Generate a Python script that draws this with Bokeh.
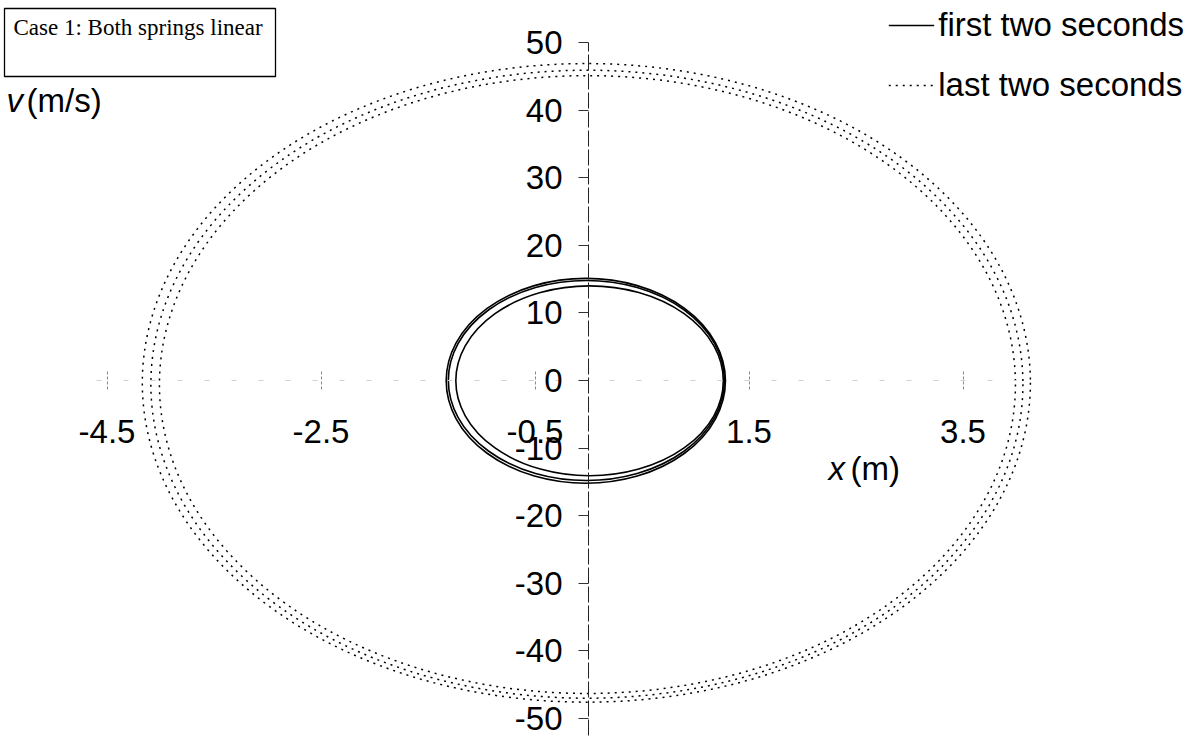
from bokeh.plotting import figure
from bokeh.models import (LinearAxis, FixedTicker, Range1d, Label, BoxAnnotation,
                          Legend, LegendItem, ColumnDataSource)
from bokeh.embed import file_html
from bokeh.resources import INLINE

# ---- data -------------------------------------------------------------
x_ticks = [-4.5, -2.5, -0.5, 1.5, 3.5]
v_ticks = [-50, -40, -30, -20, -10, 0, 10, 20, 30, 40, 50]

# phase-plane loops during the first two seconds (extent of each loop)
first_x_min = [-1.33, -1.31, -1.24]
first_x_max = [1.28, 1.27, 1.26]
first_v_min = [-15.2, -14.8, -14.1]
first_v_max = [15.1, 14.8, 14.0]

# phase-plane loops during the last two seconds
last_x_min = [-4.17, -4.09, -4.01]
last_x_max = [4.13, 4.06, 3.99]
last_v_min = [-47.6, -47.0, -46.3]
last_v_max = [46.9, 45.9, 45.1]

# ---- layout -----------------------------------------------------------
W, H = 1190, 739
ORIGIN_PX = (588, 380)      # canvas position of x = 0, v = 0
PX_PER_M = 107.0
PX_PER_MS = 6.76
FONT = "Liberation Sans"


def loops(xmin, xmax, vmin, vmax):
    return ColumnDataSource(dict(
        xc=[(a + b) / 2 for a, b in zip(xmin, xmax)],
        vc=[(a + b) / 2 for a, b in zip(vmin, vmax)],
        w=[b - a for a, b in zip(xmin, xmax)],
        h=[b - a for a, b in zip(vmin, vmax)],
    ))


def plain_labels(ticks):
    # ordinary hyphen-minus for negative tick labels
    return {t: f"{t:g}" for t in ticks}


x_range = Range1d(-ORIGIN_PX[0] / PX_PER_M, (W - ORIGIN_PX[0]) / PX_PER_M)
y_range = Range1d(-(H - ORIGIN_PX[1]) / PX_PER_MS, ORIGIN_PX[1] / PX_PER_MS)

p = figure(width=W, height=H, x_range=x_range, y_range=y_range,
           x_axis_type=None, y_axis_type=None, min_border=0,
           output_backend="svg", toolbar_location=None)
p.outline_line_color = None
p.background_fill_color = "white"
p.border_fill_color = "white"

# axes crossing at the origin
yaxis = LinearAxis(fixed_location=0, ticker=FixedTicker(ticks=v_ticks),
                   bounds=(-52.5, 50))
yaxis.axis_line_color = "#222222"
yaxis.axis_line_width = 1
yaxis.axis_line_dash = "16 3"
yaxis.major_tick_in = 0
yaxis.major_tick_out = 10
yaxis.major_tick_line_color = "#333333"
yaxis.minor_tick_line_color = None
yaxis.major_label_standoff = 16
yaxis.major_label_text_font = FONT
yaxis.major_label_text_font_size = "33px"
yaxis.major_label_text_color = "black"
yaxis.major_label_overrides = plain_labels(v_ticks)
p.add_layout(yaxis, "left")

xaxis = LinearAxis(fixed_location=0, ticker=FixedTicker(ticks=x_ticks),
                   bounds=(-4.6, 4.0))
xaxis.axis_line_color = "#d0d0d0"
xaxis.axis_line_width = 1
xaxis.axis_line_dash = "5 22"
xaxis.major_tick_in = 9
xaxis.major_tick_out = 9
xaxis.major_tick_line_color = "#888888"
xaxis.major_tick_line_dash = "3 2"
xaxis.minor_tick_line_color = None
xaxis.major_label_standoff = 30
xaxis.major_label_text_font = FONT
xaxis.major_label_text_font_size = "33px"
xaxis.major_label_text_color = "black"
xaxis.major_label_overrides = plain_labels(x_ticks)
p.add_layout(xaxis, "below")

# trajectories
p.ellipse(x="xc", y="vc", width="w", height="h", source=loops(
    last_x_min, last_x_max, last_v_min, last_v_max),
    fill_color=None, line_color="black", line_width=1.5, line_dash="2 5")
p.ellipse(x="xc", y="vc", width="w", height="h", source=loops(
    first_x_min, first_x_max, first_v_min, first_v_max),
    fill_color=None, line_color="black", line_width=1.6)

# legend samples (a single undefined point each, so nothing is drawn in the plot)
nan = float("nan")
r_first = p.line(x=[nan], y=[nan], line_color="black", line_width=1.6)
r_last = p.line(x=[nan], y=[nan], line_color="black", line_width=1.5,
                line_dash="2 5")
legend = Legend(items=[LegendItem(label="first two seconds", renderers=[r_first]),
                       LegendItem(label="last two seconds", renderers=[r_last])],
                location="top_right")
legend.border_line_color = None
legend.background_fill_alpha = 0
legend.padding = 0
legend.margin = 6
legend.spacing = 22
legend.glyph_width = 46
legend.glyph_height = 36
legend.label_height = 36
legend.label_standoff = 4
legend.label_text_font = FONT
legend.label_text_font_size = "33px"
legend.label_text_color = "black"
p.add_layout(legend)

# axis titles
def label(x, y, text, **kw):
    opts = dict(x=x, y=H - y, x_units="screen", y_units="screen", text=text,
                text_font=FONT, text_font_size="33px", text_baseline="middle",
                text_color="black")
    opts.update(kw)
    p.add_layout(Label(**opts))

label(6, 100, "v", text_font_style="italic")
label(26, 100, "(m/s)")
label(828, 468, "x", text_font_style="italic")
label(850, 468, "(m)")

# case caption in a box
p.add_layout(BoxAnnotation(left=4, right=275, top=H - 8, bottom=H - 76,
                           left_units="screen", right_units="screen",
                           top_units="screen", bottom_units="screen",
                           fill_color=None, line_color="black", line_alpha=1.0,
                           line_width=1.3))
label(13, 27, "Case 1: Both springs linear", text_font="Liberation Serif",
      text_font_size="23px")

open("out.html", "w").write(file_html(p, INLINE))
